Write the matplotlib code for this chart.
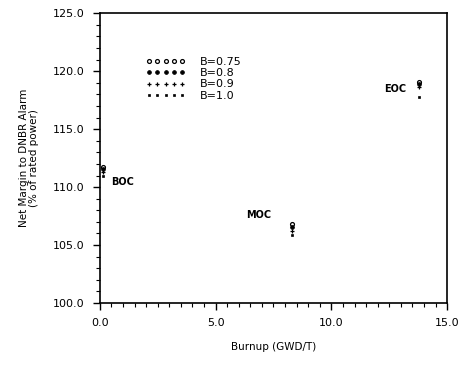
import matplotlib
matplotlib.use("Agg")
import matplotlib.pyplot as plt
from matplotlib.ticker import MultipleLocator, FormatStrFormatter

plt.rcParams['font.family'] = ['DejaVu Sans']

# Data
burnup = [0.15, 8.3, 13.8]
phase_labels = ["BOC", "MOC", "EOC"]
series_names = ["B=0.75", "B=0.8", "B=0.9", "B=1.0"]
margin_b075 = [111.7, 106.8, 119.1]
margin_b08 = [111.6, 106.6, 118.9]
margin_b09 = [111.3, 106.2, 118.6]
margin_b10 = [111.0, 105.9, 117.8]
label_x = [0.5, 6.3, 12.3]
label_y = [110.4, 107.6, 118.5]

series = [margin_b075, margin_b08, margin_b09, margin_b10]
markers = [dict(marker='o', ms=2.8, mfc='white', mec='black', mew=0.9),
           dict(marker='o', ms=2.6, mfc='black', mec='black', mew=0.7),
           dict(marker='+', ms=3.0, mfc='black', mec='black', mew=0.9),
           dict(marker='s', ms=1.9, mfc='black', mec='black', mew=0.5)]

fig = plt.figure(figsize=(4.6, 3.66), dpi=100)
ax = fig.add_axes([0.217, 0.172, 0.755, 0.792])

for name, vals, mk in zip(series_names, series, markers):
    ax.plot(burnup, vals, linestyle='none', color='black', label=name, **mk)

for t, x, y in zip(phase_labels, label_x, label_y):
    ax.text(x, y, t, fontsize=7, fontweight='bold', va='center', ha='left')

ax.set_xlim(0, 15)
ax.set_ylim(100, 125)
ax.xaxis.set_major_locator(MultipleLocator(5))
ax.xaxis.set_minor_locator(MultipleLocator(0.5))
ax.yaxis.set_major_locator(MultipleLocator(5))
ax.yaxis.set_minor_locator(MultipleLocator(1))
ax.xaxis.set_major_formatter(FormatStrFormatter('%.1f'))
ax.yaxis.set_major_formatter(FormatStrFormatter('%.1f'))
ax.tick_params(which='major', direction='out', length=5, width=1.0, labelsize=8, pad=6)
ax.tick_params(which='minor', direction='out', length=3, width=0.8)
for s in ax.spines.values():
    s.set_linewidth(1.2)

ax.set_xlabel("Burnup (GWD/T)", fontsize=7.5, labelpad=10)
ax.set_ylabel("Net Margin to DNBR Alarm\n(% of rated power)", fontsize=7.5, labelpad=10,
              linespacing=0.95)

leg = ax.legend(loc='upper left', bbox_to_anchor=(0.11, 0.875), numpoints=5, frameon=False,
                fontsize=8, handlelength=3.6, handletextpad=1.3, labelspacing=0.1,
                borderpad=0.2)

fig.savefig("out.png", dpi=100)
